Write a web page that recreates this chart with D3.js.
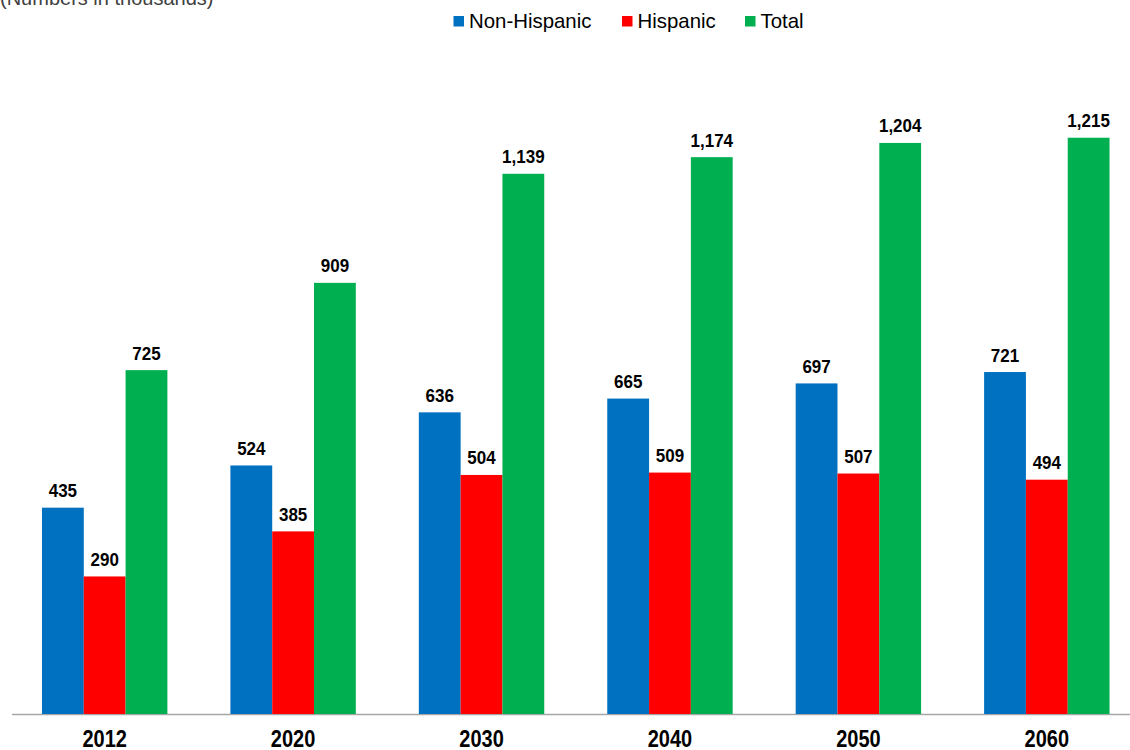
<!DOCTYPE html>
<html><head><meta charset="utf-8">
<script src="https://cdn.jsdelivr.net/npm/d3@7"></script>
<style>body{margin:0;background:#fff;}svg{display:block;font-family:Arial,"Liberation Sans",sans-serif;}</style>
</head><body>
<svg id="c" width="1130" height="750"></svg>
<script>
const years = ["2012","2020","2030","2040","2050","2060"];
const seriesNames = ["Non-Hispanic","Hispanic","Total"];
const nonHispanic = [435,524,636,665,697,721];
const hispanic = [290,385,504,509,507,494];
const total = [725,909,1139,1174,1204,1215];
const colors = ["#0070C0","#FF0000","#00B050"];
const subtitle = "(Numbers in thousands)";

const seriesVals = [nonHispanic, hispanic, total];
const svg = d3.select("#c");
const baseY = 714;
const x0 = d3.scaleBand().domain(years).range([10.5, 1141]).paddingInner(63/188.4).paddingOuter(31.5/188.4*0.999);
const x1 = d3.scaleBand().domain(seriesNames).range([0, x0.bandwidth()]);
const y = d3.scaleLinear().domain([0, 1215]).range([baseY, baseY - 1215*0.4743]);

svg.append("text").attr("x",0).attr("y",5).attr("font-size",20).attr("fill","#404040").text(subtitle);

// axis line
svg.append("line").attr("x1",12).attr("x2",1130).attr("y1",baseY+0.5).attr("y2",baseY+0.5).attr("stroke","#a6a6a6").attr("stroke-width",1.5);

const g = svg.append("g");
years.forEach((yr,i)=>{
  seriesNames.forEach((s,j)=>{
    const v = seriesVals[j][i];
    const bx = x0(yr)+x1(s);
    g.append("rect").attr("x",bx).attr("y",y(v)).attr("width",x1.bandwidth()).attr("height",baseY-y(v)).attr("fill",colors[j]);
    const ty = y(v)-10.5;
    g.append("text").attr("transform",`translate(${bx+x1.bandwidth()/2},${ty}) scale(1,1.05)`).attr("text-anchor","middle")
      .attr("font-size",17).attr("font-weight","bold").attr("fill","#000").text(d3.format(",")(v));
  });
});

// x axis labels
const xa = svg.append("g").attr("transform",`translate(0,${baseY})`).call(d3.axisBottom(x0).tickSize(0).tickPadding(0));
xa.select(".domain").remove();
xa.selectAll("text").attr("font-size",20).attr("font-weight","bold").attr("fill","#000").attr("dy",null).attr("y",null)
  .attr("transform","translate(0,32.7) scale(1,1.15)").attr("font-family","Arial,'Liberation Sans',sans-serif");

// legend
const legX = [453.5, 622, 745];
seriesNames.forEach((s,j)=>{
  svg.append("rect").attr("x",legX[j]).attr("y",16).attr("width",10.5).attr("height",10.5).attr("fill",colors[j]);
  svg.append("text").attr("x",legX[j]+15.5).attr("y",27.7).attr("font-size",20.4).attr("fill","#000").text(s);
});
</script>
</body></html>
